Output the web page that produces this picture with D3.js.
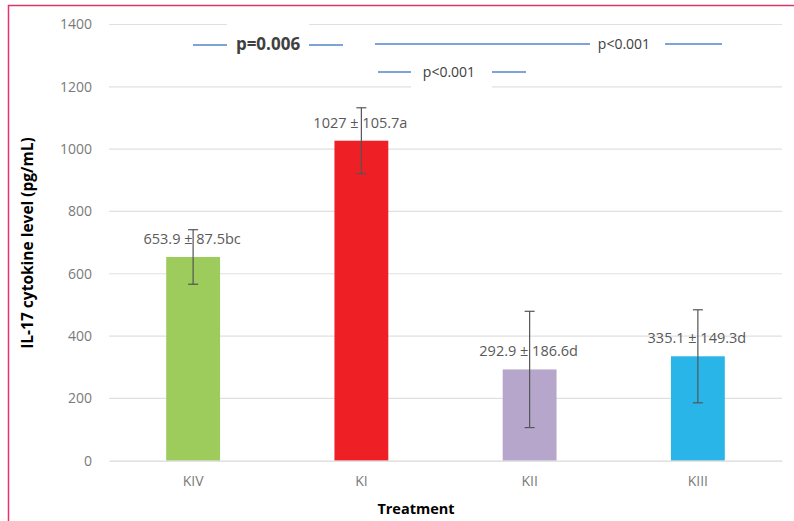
<!DOCTYPE html>
<html>
<head>
<meta charset="utf-8">
<script src="https://cdn.jsdelivr.net/npm/d3@7"></script>
<style>
  html, body { margin: 0; padding: 0; background: #fff; }
  svg { display: block; }
</style>
</head>
<body>
<svg id="chart" width="794" height="521"></svg>
<script>
// IL-17 cytokine level per treatment group
const groups = ["KIV", "KI", "KII", "KIII"];
const means = [653.9, 1027, 292.9, 335.1];
const sds = [87.5, 105.7, 186.6, 149.3];
const letters = ["bc", "a", "d", "d"];
const barColors = ["#9dcb5c", "#ee1f25", "#b6a6cb", "#29b5e8"];
const yTicks = [0, 200, 400, 600, 800, 1000, 1200, 1400];

const svg = d3.select("#chart");
const W = 794, H = 521;
const m = { left: 109, right: 12, top: 24.5, bottom: 60.3 };
const font = "'Open Sans', sans-serif";

const x = d3.scaleBand().domain(groups).range([m.left, W - m.right]).paddingInner(0.68).paddingOuter(0.34);
const y = d3.scaleLinear().domain([0, 1400]).range([H - m.bottom, m.top]);

// frame lines (top and left)
svg.append("line").attr("x1", 8).attr("x2", W).attr("y1", 5.5).attr("y2", 5.5)
  .attr("stroke", "#d63a68").attr("stroke-width", 1.5);
svg.append("line").attr("x1", 8.5).attr("x2", 8.5).attr("y1", 5).attr("y2", H)
  .attr("stroke", "#e8336b").attr("stroke-width", 1.5);

// gridlines
svg.append("g").selectAll("line").data(yTicks.slice(1)).join("line")
  .attr("x1", m.left).attr("x2", W - m.right)
  .attr("y1", d => y(d)).attr("y2", d => y(d))
  .attr("stroke", "#e0e0e0").attr("stroke-width", 1.2);

// y axis
const yAxis = svg.append("g").attr("transform", `translate(${m.left},0)`)
  .call(d3.axisLeft(y).tickValues(yTicks).tickFormat(d3.format("d")).tickSize(0).tickPadding(17));
yAxis.select(".domain").remove();
yAxis.selectAll("text").attr("fill", "#7a7a7a").style("font-family", font).style("font-size", "14px");

// bars
const bw = x.bandwidth();
svg.append("g").selectAll("rect").data(groups).join("rect")
  .attr("x", d => x(d)).attr("width", bw)
  .attr("y", (d, i) => y(means[i])).attr("height", (d, i) => y(0) - y(means[i]))
  .attr("fill", (d, i) => barColors[i]);

// baseline / x axis
const xAxis = svg.append("g").attr("transform", `translate(0,${y(0)})`)
  .call(d3.axisBottom(x).tickSize(0).tickPadding(15));
xAxis.select(".domain").attr("stroke", "#d9d9d9").attr("stroke-width", 1.3);
xAxis.selectAll("text").attr("fill", "#7a7a7a").style("font-family", font).style("font-size", "14px");

// error bars
const eb = svg.append("g").attr("stroke", "#555").attr("stroke-width", 1.2);
groups.forEach((g, i) => {
  const cx = x(g) + bw / 2;
  const top = y(means[i] + sds[i]), bot = y(means[i] - sds[i]);
  eb.append("line").attr("x1", cx).attr("x2", cx).attr("y1", top).attr("y2", bot);
  eb.append("line").attr("x1", cx - 5).attr("x2", cx + 5).attr("y1", top).attr("y2", top);
  eb.append("line").attr("x1", cx - 5).attr("x2", cx + 5).attr("y1", bot).attr("y2", bot);
});

// value labels
svg.append("g").selectAll("text").data(groups).join("text")
  .attr("x", d => x(d) + bw / 2 - 1)
  .attr("y", (d, i) => y(means[i]) - 13)
  .attr("text-anchor", "middle")
  .attr("fill", "#595959")
  .style("font-family", font).style("font-size", "14.5px")
  .text((d, i) => `${means[i]} ± ${sds[i]}${letters[i]}`);

// axis titles
svg.append("text").attr("x", 416).attr("y", 514).attr("text-anchor", "middle")
  .style("font-family", font).style("font-size", "14.5px").style("font-weight", "bold")
  .attr("fill", "#000").text("Treatment");
svg.append("text").attr("transform", "translate(33,243) rotate(-90)").attr("text-anchor", "middle")
  .style("font-family", font).style("font-size", "15.5px").style("font-weight", "bold")
  .attr("fill", "#000").text("IL-17 cytokine level (pg/mL)");

// significance annotations
const lineColor = "#7ea3d6";
const sig = svg.append("g");
function sigRow(segs, label, lx, ly, size, weight, box) {
  sig.append("rect").attr("x", box[0]).attr("y", box[1]).attr("width", box[2]).attr("height", box[3]).attr("fill", "#fff");
  segs.forEach(s => sig.append("line").attr("x1", s[0]).attr("x2", s[1]).attr("y1", ly - 5).attr("y2", ly - 5)
    .attr("stroke", lineColor).attr("stroke-width", 2));
  sig.append("text").attr("x", lx).attr("y", ly).attr("text-anchor", "middle")
    .style("font-family", font).style("font-size", size).style("font-weight", weight)
    .attr("fill", "#404040").text(label);
}
sigRow([[193, 227], [309, 343]], "p=0.006", 268, 50, "17px", "bold", [227, 18, 82, 40]);
sigRow([[375, 590], [665, 722]], "p<0.001", 624, 49, "14px", "normal", [592, 36, 72, 20]);
sigRow([[378, 411], [492, 526]], "p<0.001", 449, 77, "14px", "normal", [411, 62, 81, 28]);
</script>
</body>
</html>
